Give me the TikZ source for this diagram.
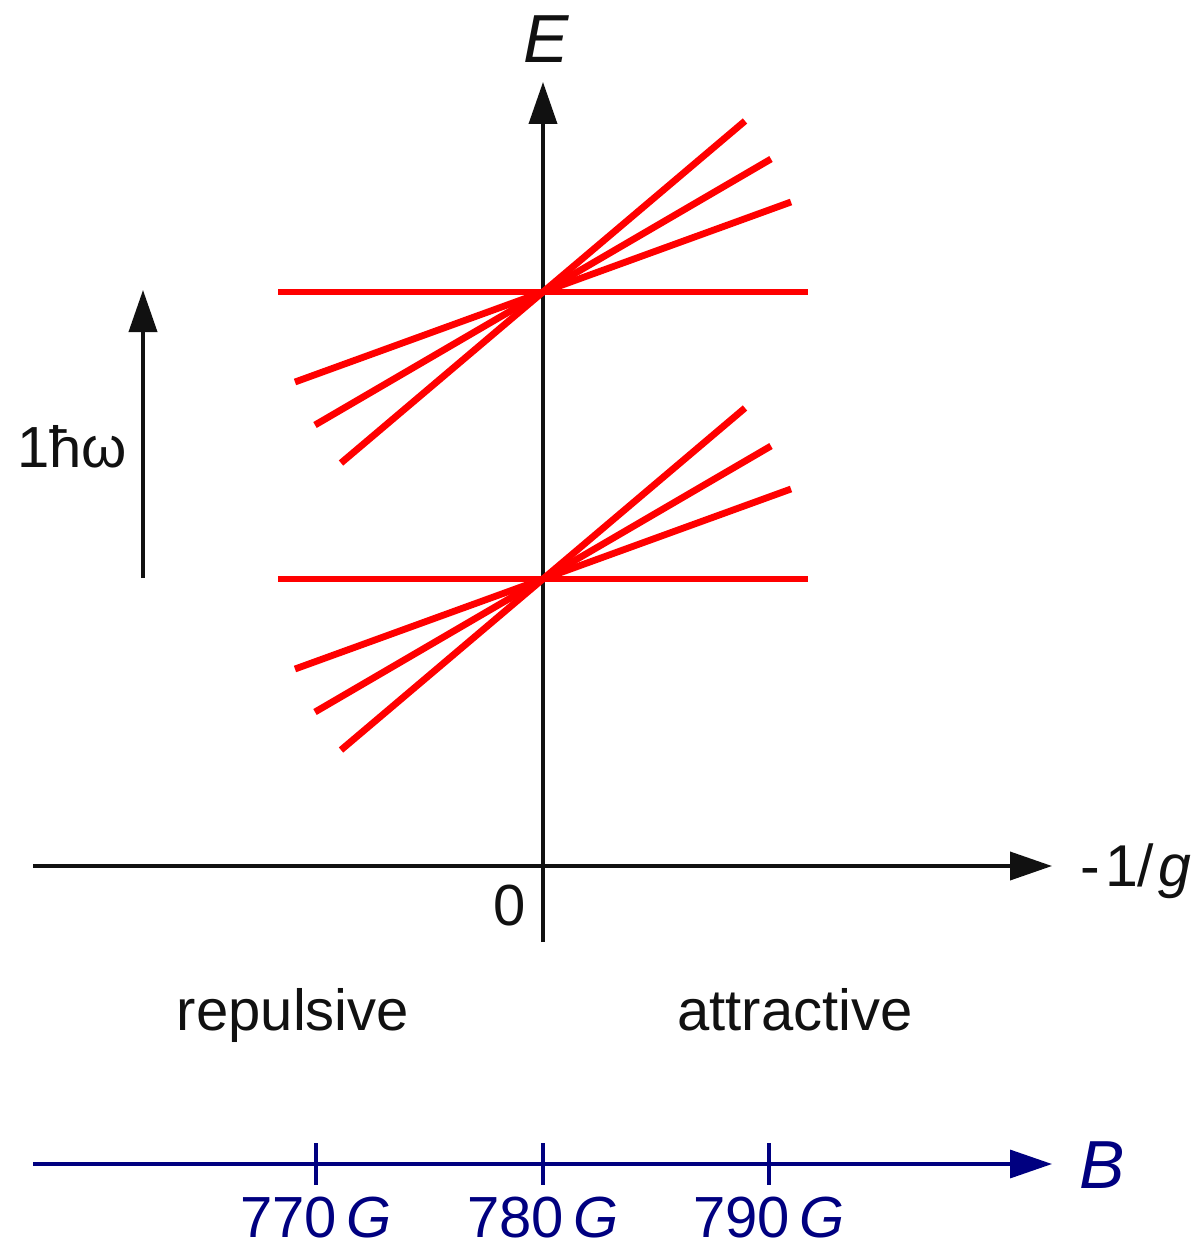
\documentclass[tikz,border=0pt]{standalone}
\usepackage{fontspec}
\setmainfont{Liberation Sans}
\usetikzlibrary{arrows.meta,calc}
\definecolor{LevelRed}{HTML}{FF0000}
\definecolor{FieldNavy}{HTML}{000080}
\definecolor{InkBlack}{HTML}{111111}

\begin{document}
\begin{tikzpicture}[
    x=0.5pt,y=-0.5pt,
    every node/.style={inner sep=0pt,text=InkBlack,font=\fontsize{29}{34}\selectfont},
    axis/.style={draw=InkBlack,line width=1.9pt,-{Triangle[length=21pt,width=14pt]}},
    level/.style={draw=LevelRed,line width=3.4pt},
    field/.style={draw=FieldNavy,line width=1.7pt},
    tick/.style={draw=FieldNavy,line width=1.7pt},
    bigitalic/.style={font=\fontsize{34}{40}\selectfont\itshape}
  ]
  \useasboundingbox (0,0) rectangle (1203,1247);

  \coordinate (ebot) at (543,942);
  \coordinate (etop) at (543,82);
  \coordinate (gleft) at (33,866);
  \coordinate (gright) at (1052,866);
  \coordinate (hwlow) at (143,578);
  \coordinate (hwhigh) at (143,290);
  \coordinate (up) at (543,292);
  \coordinate (low) at (543,579);
  \coordinate (bleft) at (33,1164);
  \coordinate (bright) at (1052,1164);

  \draw[axis] (ebot) -- (etop);
  \draw[axis] (gleft) -- (gright);
  \draw[axis] (hwlow) -- (hwhigh);

  \foreach \c in {up,low}{
    \draw[level] ($(\c)+(-265,0)$) -- ($(\c)+(265,0)$);
    \foreach \dx/\dy in {202/171,228/133,248/90}
      \draw[level] ($(\c)+(-\dx,\dy)$) -- ($(\c)+(\dx,-\dy)$);
  }

  \node[bigitalic,anchor=base] (elabel) at (546,63) {E};
  \node[anchor=base west,font=\fontsize{29.5}{34}\selectfont] (glabel) at (1080,886) {-\kern2.5pt1/\kern2pt\textit{g}};
  \node[anchor=base] (zero) at (510,925) {0};
  \node[anchor=base west] (hw) at (17,467) {1ħω};
  \node[anchor=base] (rep) at (293,1030) {repulsive};
  \node[anchor=base] (att) at (795,1030) {attractive};

  \draw[field,-{Triangle[length=21pt,width=14pt]}] (bleft) -- (bright);
  \foreach \x/\v in {316/770,543/780,769/790}{
    \coordinate (t\v) at (\x,1164);
    \draw[tick] ($(t\v)+(0,-21)$) -- ($(t\v)+(0,21)$);
    \node[anchor=base,text=FieldNavy] (l\v) at (\x,1237) {\v\kern5pt\textit{G}};
  }
  \node[bigitalic,anchor=base,text=FieldNavy] (blabel) at (1102,1188) {B};
\end{tikzpicture}
\end{document}
